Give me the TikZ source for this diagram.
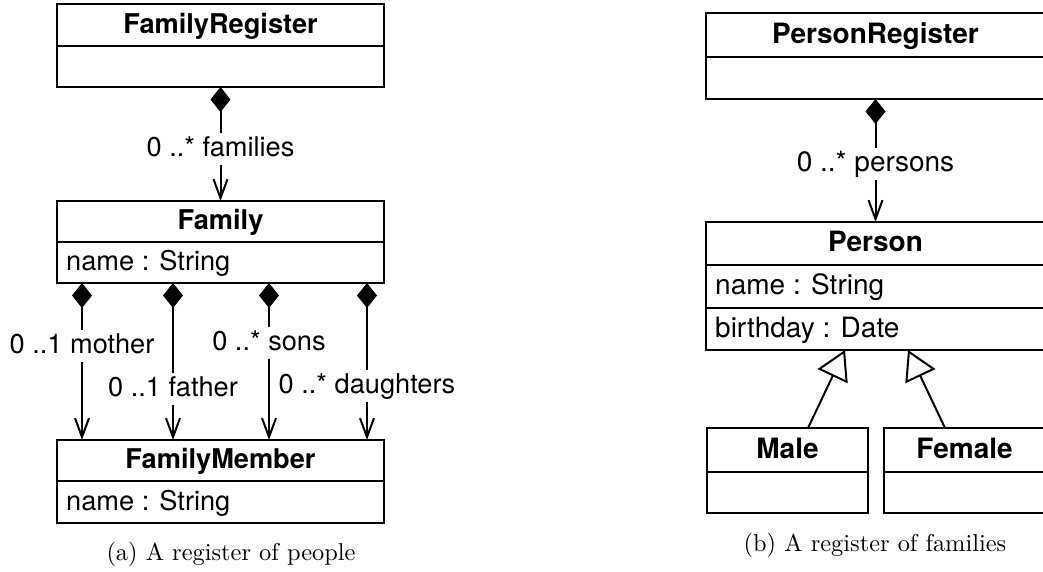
\documentclass[tikz,border=0pt]{standalone}
\usepackage{fontspec}
\newfontfamily\umlfont{TeX Gyre Heros}
\newfontfamily\capfont{lmroman10-regular.otf}
\usetikzlibrary{arrows.meta}
\begin{document}
\begin{tikzpicture}[x=1pt,y=-1pt,
  comp/.style={draw, line width=2pt, inner sep=0pt, outer sep=0pt, anchor=north west,
    text height=20pt, text depth=3.5pt},
  lft/.style={font=\umlfont\fontsize{27.2}{32}\selectfont},
  rgt/.style={font=\umlfont\fontsize{28}{33}\selectfont},
  ttl/.style={font=\umlfont\bfseries\fontsize{27.2}{32}\selectfont},
  ttlr/.style={font=\umlfont\bfseries\fontsize{28}{33}\selectfont},
  attr/.style={anchor=west, inner sep=0pt, text height=20pt, text depth=3.5pt},
  lbl/.style={fill=white, inner xsep=2pt, inner ysep=3.5pt, text height=20pt, text depth=5pt},
  compo/.style={line width=2pt, {Diamond[length=25pt,width=20pt]}-{Straight Barb[length=19pt,width=14pt]}},
  gen/.style={line width=2pt, -{Triangle[open,length=29pt,width=33pt,fill=white]}},
  capt/.style={font=\capfont\fontsize{24.4}{29}\selectfont, anchor=base, inner sep=0pt}
]
\useasboundingbox (0,0) rectangle (1043,571);
\clip (0,0) rectangle (1043,571);

% ---------- (a) ----------
\node[comp, ttl, minimum width=327pt, minimum height=42pt] (frt) at (57,4) {FamilyRegister};
\node[comp, minimum width=327pt, minimum height=41pt] (frb) at (57,46) {};
\node[comp, ttl, minimum width=327pt, minimum height=41pt] (ft) at (57,201) {Family};
\node[comp, minimum width=327pt, minimum height=41pt] (fa) at (57,242) {};
\node[attr, lft] (faname) at ([xshift=9pt]fa.west) {name : String};
\node[comp, ttl, minimum width=327pt, minimum height=41pt] (fmt) at (57,440) {FamilyMember};
\node[comp, minimum width=327pt, minimum height=42pt] (fma) at (57,481) {};
\node[attr, lft] (fmaname) at ([xshift=9pt]fma.west) {name : String};

\draw[compo] (frb.south) -- node[lbl, lft, pos=.544] (lfam) {0 ..* families} (ft.north);
\draw[compo] ([xshift=-138.5pt]fa.south) -- node[lbl, lft, pos=.401] (lmot) {0 ..1 mother} ([xshift=-138.5pt]fmt.north);
\draw[compo] ([xshift=-47.5pt]fa.south) -- node[lbl, lft, pos=.672] (lfat) {0 ..1 father} ([xshift=-47.5pt]fmt.north);
\draw[compo] ([xshift=48.5pt]fa.south) -- node[lbl, lft, pos=.385] (lson) {0 ..* sons} ([xshift=48.5pt]fmt.north);
\draw[compo] ([xshift=146.5pt]fa.south) -- node[lbl, lft, pos=.659] (ldau) {0 ..* daughters} ([xshift=146.5pt]fmt.north);

\node[capt] (capa) at (231,560) {(a) A register of people};

% ---------- (b) ----------
\node[comp, ttlr, minimum width=339pt, minimum height=44pt] (prt) at (706,13) {PersonRegister};
\node[comp, minimum width=339pt, minimum height=42pt] (prb) at (706,57) {};
\node[comp, ttlr, minimum width=339pt, minimum height=43pt] (pt) at (706,222) {Person};
\node[comp, minimum width=339pt, minimum height=43pt] (pn) at (706,265) {};
\node[attr, rgt] (pnname) at ([xshift=9pt]pn.west) {name : String};
\node[comp, minimum width=339pt, minimum height=42pt] (pb) at (706,308) {};
\node[attr, rgt] (pbname) at ([xshift=9pt]pb.west) {birthday : Date};

\node[comp, ttlr, minimum width=161pt, minimum height=44pt] (mt) at (707,428) {Male};
\node[comp, minimum width=161pt, minimum height=41pt] (mb) at (707,472) {};
\node[comp, ttlr, minimum width=161pt, minimum height=44pt] (wt) at (884,428) {Female};
\node[comp, minimum width=161pt, minimum height=41pt] (wb) at (884,472) {};

\draw[compo] (prb.south) -- node[lbl, rgt, pos=.528] (lper) {0 ..* persons} (pt.north);
\draw[gen] ([xshift=20.5pt]mt.north) -- ([xshift=-30.5pt]pb.south);
\draw[gen] ([xshift=-19.5pt]wt.north) -- ([xshift=32.5pt]pb.south);

\node[capt] (capb) at (875,551) {(b) A register of families};
\end{tikzpicture}
\end{document}
